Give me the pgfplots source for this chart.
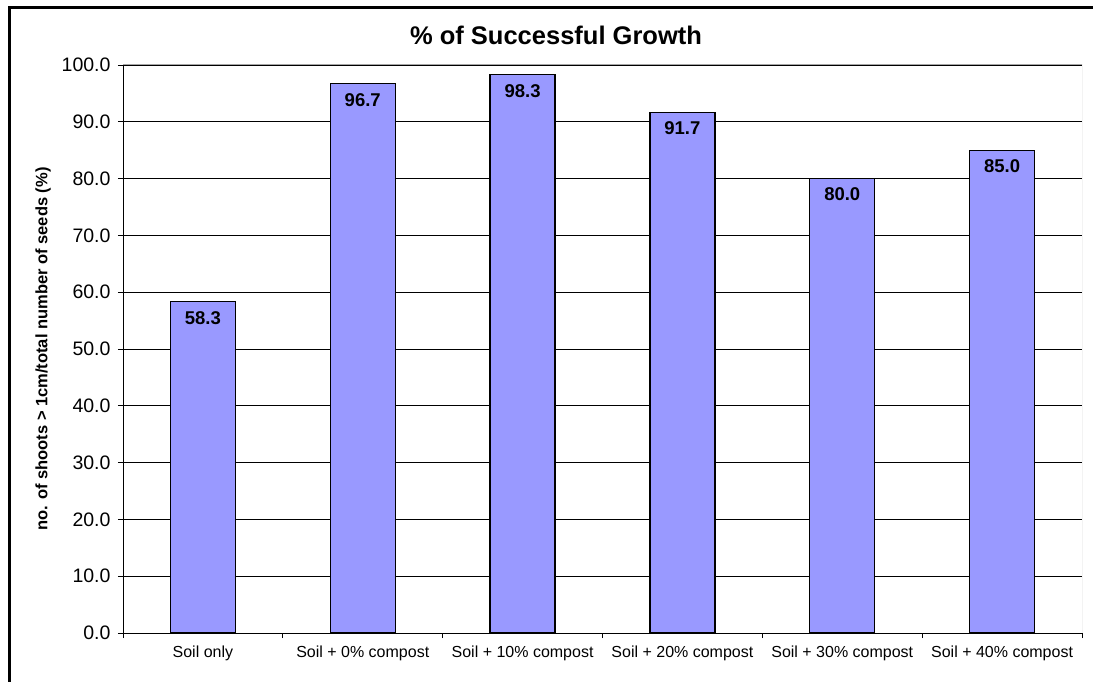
\documentclass[border=0pt]{standalone}
\usepackage{fontspec}
\setmainfont{Liberation Sans}
\usepackage{pgfplots}
\pgfplotsset{compat=1.18}
\definecolor{barblue}{HTML}{9999FF}
\begin{document}
\begin{tikzpicture}[x=1pt,y=1pt]
\useasboundingbox (0,0) rectangle (1093,681);
\fill[white] (0,0) rectangle (1093,681);
\draw[line width=3pt] (9.5,-5) -- (9.5,673) -- (1100,673);
\node[font=\fontsize{25.5}{30}\selectfont\bfseries] at (556,646) {\% of Successful Growth};
\begin{axis}[
  at={(123pt,48pt)}, anchor=south west,
  scale only axis, width=959pt, height=568pt,
  xmin=-0.5, xmax=5.5, ymin=0, ymax=100,
  ybar, bar width=65pt, bar shift=0pt,
  xtick={0,...,5},
  xticklabels={Soil only, Soil + 0\% compost, Soil + 10\% compost, Soil + 20\% compost, Soil + 30\% compost, Soil + 40\% compost},
  major x tick style={draw=none},
  minor xtick={-0.5,0.5,1.5,2.5,3.5,4.5,5.5},
  ytick={0,10,...,100},
  tick pos=left, tick align=outside,
  major tick length=5pt, minor tick length=5pt,
  tick style={black, line width=0.8pt},
  ymajorgrids, grid style={black, line width=0.8pt},
  axis line style={draw=none},
  yticklabel={\pgfmathprintnumber[fixed,fixed zerofill,precision=1,assume math mode=true]{\tick}},
  yticklabel style={font=\fontsize{19.5}{23}\selectfont, xshift=-4pt},
  xticklabel style={font=\fontsize{16}{19}\selectfont, yshift=-4pt},
  ylabel={no. of shoots > 1cm/total number of seeds (\%)},
  every axis y label/.style={at={(axis description cs:-0.0834,0.5)}, rotate=90, anchor=center},
  ylabel style={font=\fontsize{16.5}{19}\selectfont\bfseries},
  nodes near coords={\pgfmathprintnumber[fixed,fixed zerofill,precision=1,assume math mode=true]{\pgfplotspointmeta}},
  every node near coord/.append style={font=\fontsize{18.5}{21}\selectfont\bfseries, anchor=center, yshift=-16pt, black},
]
\addplot[fill=barblue, draw=black, line width=1.2pt] coordinates {
  (0,58.3) (1,96.7) (2,98.3) (3,91.7) (4,80.0) (5,85.0)
};
\draw[gray!70, line width=1pt] (rel axis cs:0,1) -- (rel axis cs:1,1) -- (rel axis cs:1,0);
\draw[black, line width=1pt] (rel axis cs:0,1) -- (rel axis cs:0,0) -- (rel axis cs:1,0);
\end{axis}
\end{tikzpicture}
\end{document}
